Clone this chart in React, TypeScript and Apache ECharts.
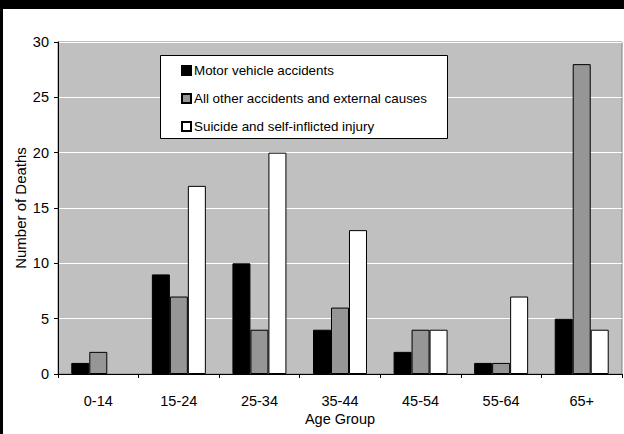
import React, { useEffect, useRef } from "react";
import * as echarts from "echarts";

const ageGroups = ["0-14", "15-24", "25-34", "35-44", "45-54", "55-64", "65+"];
const seriesNames = [
  "Motor vehicle accidents",
  "All other accidents and external causes",
  "Suicide and self-inflicted injury",
];
const motorVehicle = [1, 9, 10, 4, 2, 1, 5];
const otherAccidents = [2, 7, 4, 6, 4, 1, 28];
const suicide = [0, 17, 20, 13, 4, 7, 4];
const yTicks = { min: 0, max: 30, interval: 5 };

const FONT = "'Liberation Sans', Arial, sans-serif";
const LEGEND_FS = 13.4;
const AXIS_FS = 14.5;
const NAME_FS = 15;

export default function App() {
  const ref = useRef<HTMLDivElement>(null);

  useEffect(() => {
    document.body.style.margin = "0";
    if (!ref.current) return;
    const chart = echarts.init(ref.current, null, { renderer: "svg" });

    const values = [motorVehicle, otherAccidents, suicide];
    const fills = ["#000000", "#969696", "#ffffff"];

    // zero-height bars get no outline so nothing shows on the axis
    const toData = (arr: number[]) =>
      arr.map((v) => (v === 0 ? { value: v, itemStyle: { borderWidth: 0 } } : v));

    chart.setOption({
      animation: false,
      backgroundColor: "#ffffff",
      textStyle: { fontFamily: FONT, color: "#000" },
      grid: {
        left: 58,
        top: 42,
        right: 2,
        bottom: 60,
        show: true,
        backgroundColor: "#c0c0c0",
        borderColor: "#808080",
        borderWidth: 1,
      },
      graphic: [
        { type: "rect", shape: { x: 0, y: 0, width: 624, height: 9 }, style: { fill: "#000" }, z: 10 },
        { type: "rect", shape: { x: 0, y: 0, width: 3, height: 434 }, style: { fill: "#000" }, z: 10 },
        {
          type: "rect",
          shape: { x: 160.5, y: 55.5, width: 287, height: 83 },
          style: { fill: "#ffffff", stroke: "#000000", lineWidth: 1 },
          z: 5,
        },
      ],
      legend: {
        orient: "vertical",
        left: 181,
        top: 64,
        z: 6,
        itemWidth: 9,
        itemHeight: 9,
        itemGap: 15,
        padding: 0,
        icon: "rect",
        textStyle: { fontFamily: FONT, fontSize: LEGEND_FS, color: "#000", padding: [0, 0, 0, -2] },
        data: seriesNames,
      },
      xAxis: {
        type: "category",
        data: ageGroups,
        name: "Age Group",
        nameLocation: "middle",
        nameGap: 37,
        nameMoveOverlap: false,
        nameTextStyle: { fontFamily: FONT, fontSize: AXIS_FS, color: "#000" },
        axisLine: { lineStyle: { color: "#000", width: 1 } },
        axisTick: { show: true, length: 4, lineStyle: { color: "#000" } },
        axisLabel: { fontFamily: FONT, fontSize: AXIS_FS, color: "#000", margin: 19 },
        splitLine: { show: false },
      },
      yAxis: {
        type: "value",
        min: yTicks.min,
        max: yTicks.max,
        interval: yTicks.interval,
        name: "Number of Deaths",
        nameLocation: "middle",
        nameGap: 30,
        nameMoveOverlap: false,
        nameTextStyle: { fontFamily: FONT, fontSize: NAME_FS, color: "#000" },
        axisLine: { show: true, lineStyle: { color: "#000", width: 1 } },
        axisTick: { show: true, length: 4, lineStyle: { color: "#000" } },
        axisLabel: { fontFamily: FONT, fontSize: AXIS_FS, color: "#000", margin: 9 },
        splitLine: { show: true, lineStyle: { color: "#ffffff", width: 1 } },
      },
      series: seriesNames.map((name, i) => ({
        name,
        type: "bar",
        data: toData(values[i]),
        barGap: "0%",
        barCategoryGap: "33%",
        itemStyle: { color: fills[i], borderColor: "#000000", borderWidth: 1 },
      })),
    });

    return () => chart.dispose();
  }, []);

  return <div ref={ref} style={{ width: 624, height: 434 }} />;
}
